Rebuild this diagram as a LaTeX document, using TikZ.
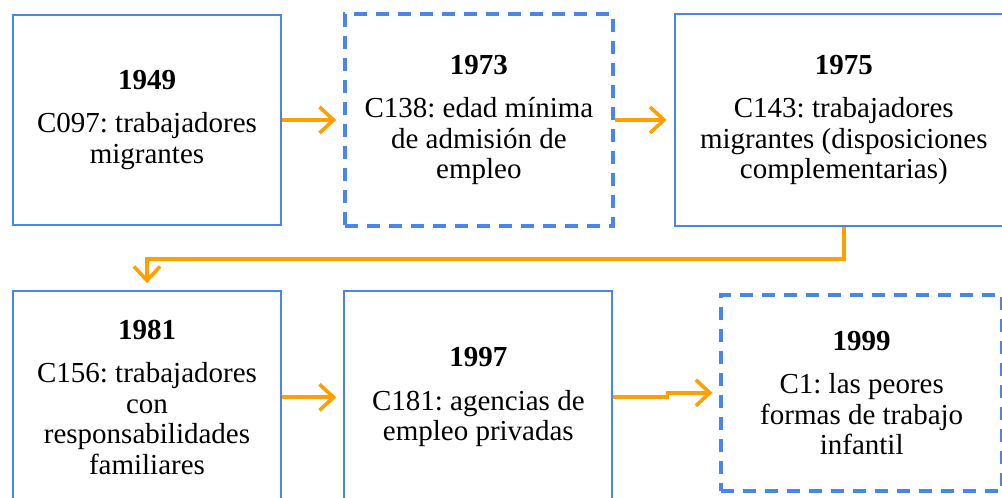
\documentclass[tikz,border=0pt]{standalone}
\usepackage{fontspec}
\setmainfont{Liberation Serif}
\usepackage{tikz}
\usetikzlibrary{positioning,arrows.meta}
\definecolor{boxblue}{RGB}{72,134,237}
\definecolor{flowor}{RGB}{255,160,0}
\frenchspacing

\begin{document}
\begin{tikzpicture}[x=1pt, y=1pt, node distance=61pt,
		main node/.style={rectangle,draw=boxblue,line width=2.3pt,align=center,inner sep=0pt,
			minimum width=268pt,minimum height=210pt,font=\fontsize{29}{30.5}\selectfont},
		open node/.style={main node,line width=3.5pt,dash pattern=on 13pt off 9pt},
		flow/.style={draw=flowor,line width=3.6pt,-{Straight Barb[length=14pt,width=26pt]},shorten >=7pt}]
		
		\useasboundingbox (0,0) rectangle (1002,498);
		
		\node[main node] (1949) at (147,378) {\textbf{1949}\\[13pt]C097: trabajadores\\migrantes};
		\node[open node, minimum height=212pt] (1973) [right=of 1949] {\textbf{1973}\\[13pt]C138: edad mínima\\de admisión de\\empleo};
		\node[main node, minimum width=338pt, minimum height=212pt] (1975) [right=59pt of 1973] {\textbf{1975}\\[13pt]C143: trabajadores\\migrantes (disposiciones\\complementarias)};
		\node[main node, minimum height=212pt] (1981) [below=64pt of 1949] {\textbf{1981}\\[13pt]C156: trabajadores\\con\\responsabilidades\\familiares};
		\node[main node, minimum height=212pt] (1997) [right=of 1981] {\textbf{1997}\\[13pt]C181: agencias de\\empleo privadas};
		\node[open node, minimum width=281pt, minimum height=196pt] (1999) [right=106pt of 1997, yshift=4.5pt] {\textbf{1999}\\[13pt]C1: las peores\\formas de trabajo\\infantil};
		
		\path[flow] (1949) -- (1973);
		\path[flow] (1973) -- (1975);
		\path[flow] (1975.south) -- ++(0,-32) -| (1981.north);
		\path[flow] (1981) -- (1997);
		\path[flow] (1997.east) -- ++(54,0) |- (1999.west);
\end{tikzpicture}
\end{document}
